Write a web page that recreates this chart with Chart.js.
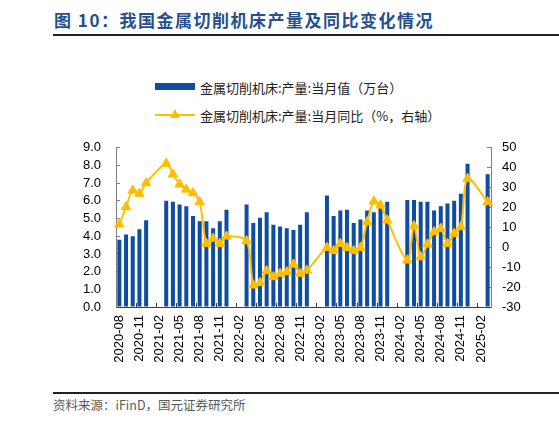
<!DOCTYPE html>
<html>
<head>
<meta charset="utf-8">
<script src="https://cdn.jsdelivr.net/npm/chart.js@4.4.0/dist/chart.umd.min.js"></script>
<style>
  body { margin: 0; background: #fff; width: 559px; height: 428px; position: relative; overflow: hidden;
         font-family: "Noto Sans CJK SC", sans-serif; }
  #title { position: absolute; left: 54px; top: 7px; font-size: 17px; font-weight: bold; color: #24508f;
           letter-spacing: 1.5px; white-space: nowrap; }
  .rule { position: absolute; left: 53px; right: 0; height: 2px; background: #222; }
  #legend { position: absolute; left: 155px; top: 73px; font-size: 13px; color: #222; }
  .item { display: flex; align-items: center; height: 28px; white-space: nowrap; }
  .mark { position: relative; width: 40px; height: 10px; margin-right: 5px; }
  .mark .box { position: absolute; left: 0; top: 1px; width: 40px; height: 7px; }
  .mark .ln { position: absolute; left: 0; top: 4px; width: 40px; height: 2px; }
  .mark .tri { position: absolute; left: 15px; top: -1px; width: 0; height: 0;
               border-left: 5px solid transparent; border-right: 5px solid transparent; border-bottom: 9px solid; }
  #source { position: absolute; left: 53px; top: 395px; font-size: 12.5px; color: #595959; white-space: nowrap; }
  #wrap { position: absolute; left: 0; top: 121px; width: 559px; height: 257px; }
</style>
</head>
<body>
<div id="title">图 10：我国金属切削机床产量及同比变化情况</div>
<div class="rule" style="top:34px"></div>
<div id="legend"></div>
<div id="wrap"><canvas id="myChart"></canvas></div>
<div class="rule" style="top:392px"></div>
<div id="source">资料来源：iFinD，国元证券研究所</div>

<script>
'use strict';

// * Monthly categories, Jan/Feb have no separate figures (null below).
const months = [
  '2020-08', '2020-09', '2020-10', '2020-11', '2020-12',
  '2021-01', '2021-02', '2021-03', '2021-04', '2021-05', '2021-06', '2021-07', '2021-08', '2021-09', '2021-10', '2021-11', '2021-12',
  '2022-01', '2022-02', '2022-03', '2022-04', '2022-05', '2022-06', '2022-07', '2022-08', '2022-09', '2022-10', '2022-11', '2022-12',
  '2023-01', '2023-02', '2023-03', '2023-04', '2023-05', '2023-06', '2023-07', '2023-08', '2023-09', '2023-10', '2023-11', '2023-12',
  '2024-01', '2024-02', '2024-03', '2024-04', '2024-05', '2024-06', '2024-07', '2024-08', '2024-09', '2024-10', '2024-11', '2024-12',
  '2025-01', '2025-02', '2025-03',
];

// * 产量当月值（万台）
const output = [
  3.8, 4.1, 4.0, 4.4, 4.9,
  null, null, 6.0, 5.95, 5.8, 5.7, 5.15, 4.85, 4.85, 4.45, 4.85, 5.5,
  null, null, 5.8, 4.75, 5.05, 5.35, 4.65, 4.55, 4.45, 4.35, 4.65, 5.35,
  null, null, 6.3, 5.15, 5.45, 5.5, 4.75, 4.95, 5.45, 5.35, 5.7, 5.95,
  null, null, 6.05, 6.05, 5.95, 5.95, 5.45, 5.7, 5.85, 6.0, 6.4, 8.1,
  null, null, 7.5,
];

// * 当月同比（%，右轴）
const yoy = [
  11.6, 20.3, 28.6, 27.0, 32.3,
  null, null, 42.1, 36.7, 31.7, 29.1, 27.3, 22.8, 1.8, 4.4, 1.8, 5.5,
  null, null, 3.2, -19.1, -17.9, -11.9, -14.9, -13.2, -12.4, -8.6, -13.2, -11.6,
  null, null, -0.2, -1.8, 1.8, -0.2, -1.8, -0.2, 12.7, 23.1, 21.1, 13.6,
  null, null, -6.5, 10.7, -4.9, 1.5, 7.7, 9.4, 1.8, 6.9, 10.2, 34.5,
  null, null, 22.8,
];

const seriesNames = ['金属切削机床:产量:当月值（万台）', '金属切削机床:产量:当月同比（%，右轴）'];
const barColor = '#0e4da1';
const lineColor = '#ffbf00';

const tickFont = { family: '"Liberation Sans", Arial, sans-serif', size: 13 };

const ctx = document.getElementById('myChart').getContext('2d');

const chart = new Chart(ctx, {
  type: 'bar',
  data: {
    labels: months,
    datasets: [
      {
        type: 'line',
        label: seriesNames[1],
        data: yoy,
        yAxisID: 'y1',
        order: 0,
        borderColor: lineColor,
        backgroundColor: lineColor,
        borderWidth: 2,
        tension: 0.3,
        spanGaps: true,
        pointStyle: 'triangle',
        pointRadius: 5.5,
        pointBorderWidth: 1,
      },
      {
        label: seriesNames[0],
        data: output,
        yAxisID: 'y',
        order: 1,
        backgroundColor: barColor,
        barPercentage: 0.6,
        categoryPercentage: 1.0,
      },
    ],
  },
  options: {
    responsive: true,
    maintainAspectRatio: false,
    animation: false,
    layout: { padding: 0 },
    plugins: { legend: { display: false }, tooltip: { enabled: false } },
    scales: {
      x: {
        afterFit: (scale) => { scale.height = 71; },
        border: { color: '#404040', width: 1 },
        grid: {
          drawOnChartArea: false,
          tickLength: -4,
          color: (c) => (c.index % 3 === 0 ? '#404040' : 'transparent'),
        },
        ticks: {
          autoSkip: false,
          minRotation: 90,
          maxRotation: 90,
          padding: 12,
          color: '#000',
          font: tickFont,
          callback: (v, i) => (i % 3 === 0 ? months[i] : ''),
        },
      },
      y: {
        position: 'left',
        min: 0,
        max: 9,
        afterFit: (scale) => { scale.width = 116; },
        border: { color: '#7f7f7f', width: 1 },
        grid: { drawOnChartArea: false, tickLength: -4, color: '#7f7f7f' },
        ticks: { stepSize: 1, autoSkip: false, padding: 19, color: '#000', font: tickFont, callback: (v) => v.toFixed(1) },
      },
      y1: {
        position: 'right',
        min: -30,
        max: 50,
        afterFit: (scale) => { scale.width = 68; },
        border: { color: '#7f7f7f', width: 1 },
        grid: { drawOnChartArea: false, tickLength: -4, color: '#7f7f7f' },
        ticks: { stepSize: 10, autoSkip: false, padding: 15, color: '#000', font: tickFont },
      },
    },
  },
});

// * HTML legend built from the datasets, stacked on two rows.
function buildLegend() {
  const box = document.getElementById('legend');
  const ordered = [chart.data.datasets[1], chart.data.datasets[0]];
  ordered.forEach((ds) => {
    const row = document.createElement('div');
    row.className = 'item';
    const mark = document.createElement('span');
    mark.className = 'mark';
    if (ds.type === 'line') {
      mark.innerHTML = `<span class="ln" style="background:${ds.borderColor}"></span>` +
        `<span class="tri" style="border-bottom-color:${ds.borderColor}"></span>`;
    } else {
      mark.innerHTML = `<span class="box" style="background:${ds.backgroundColor}"></span>`;
    }
    const txt = document.createElement('span');
    txt.textContent = ds.label;
    row.appendChild(mark);
    row.appendChild(txt);
    box.appendChild(row);
  });
}
buildLegend();
</script>
</body>
</html>
